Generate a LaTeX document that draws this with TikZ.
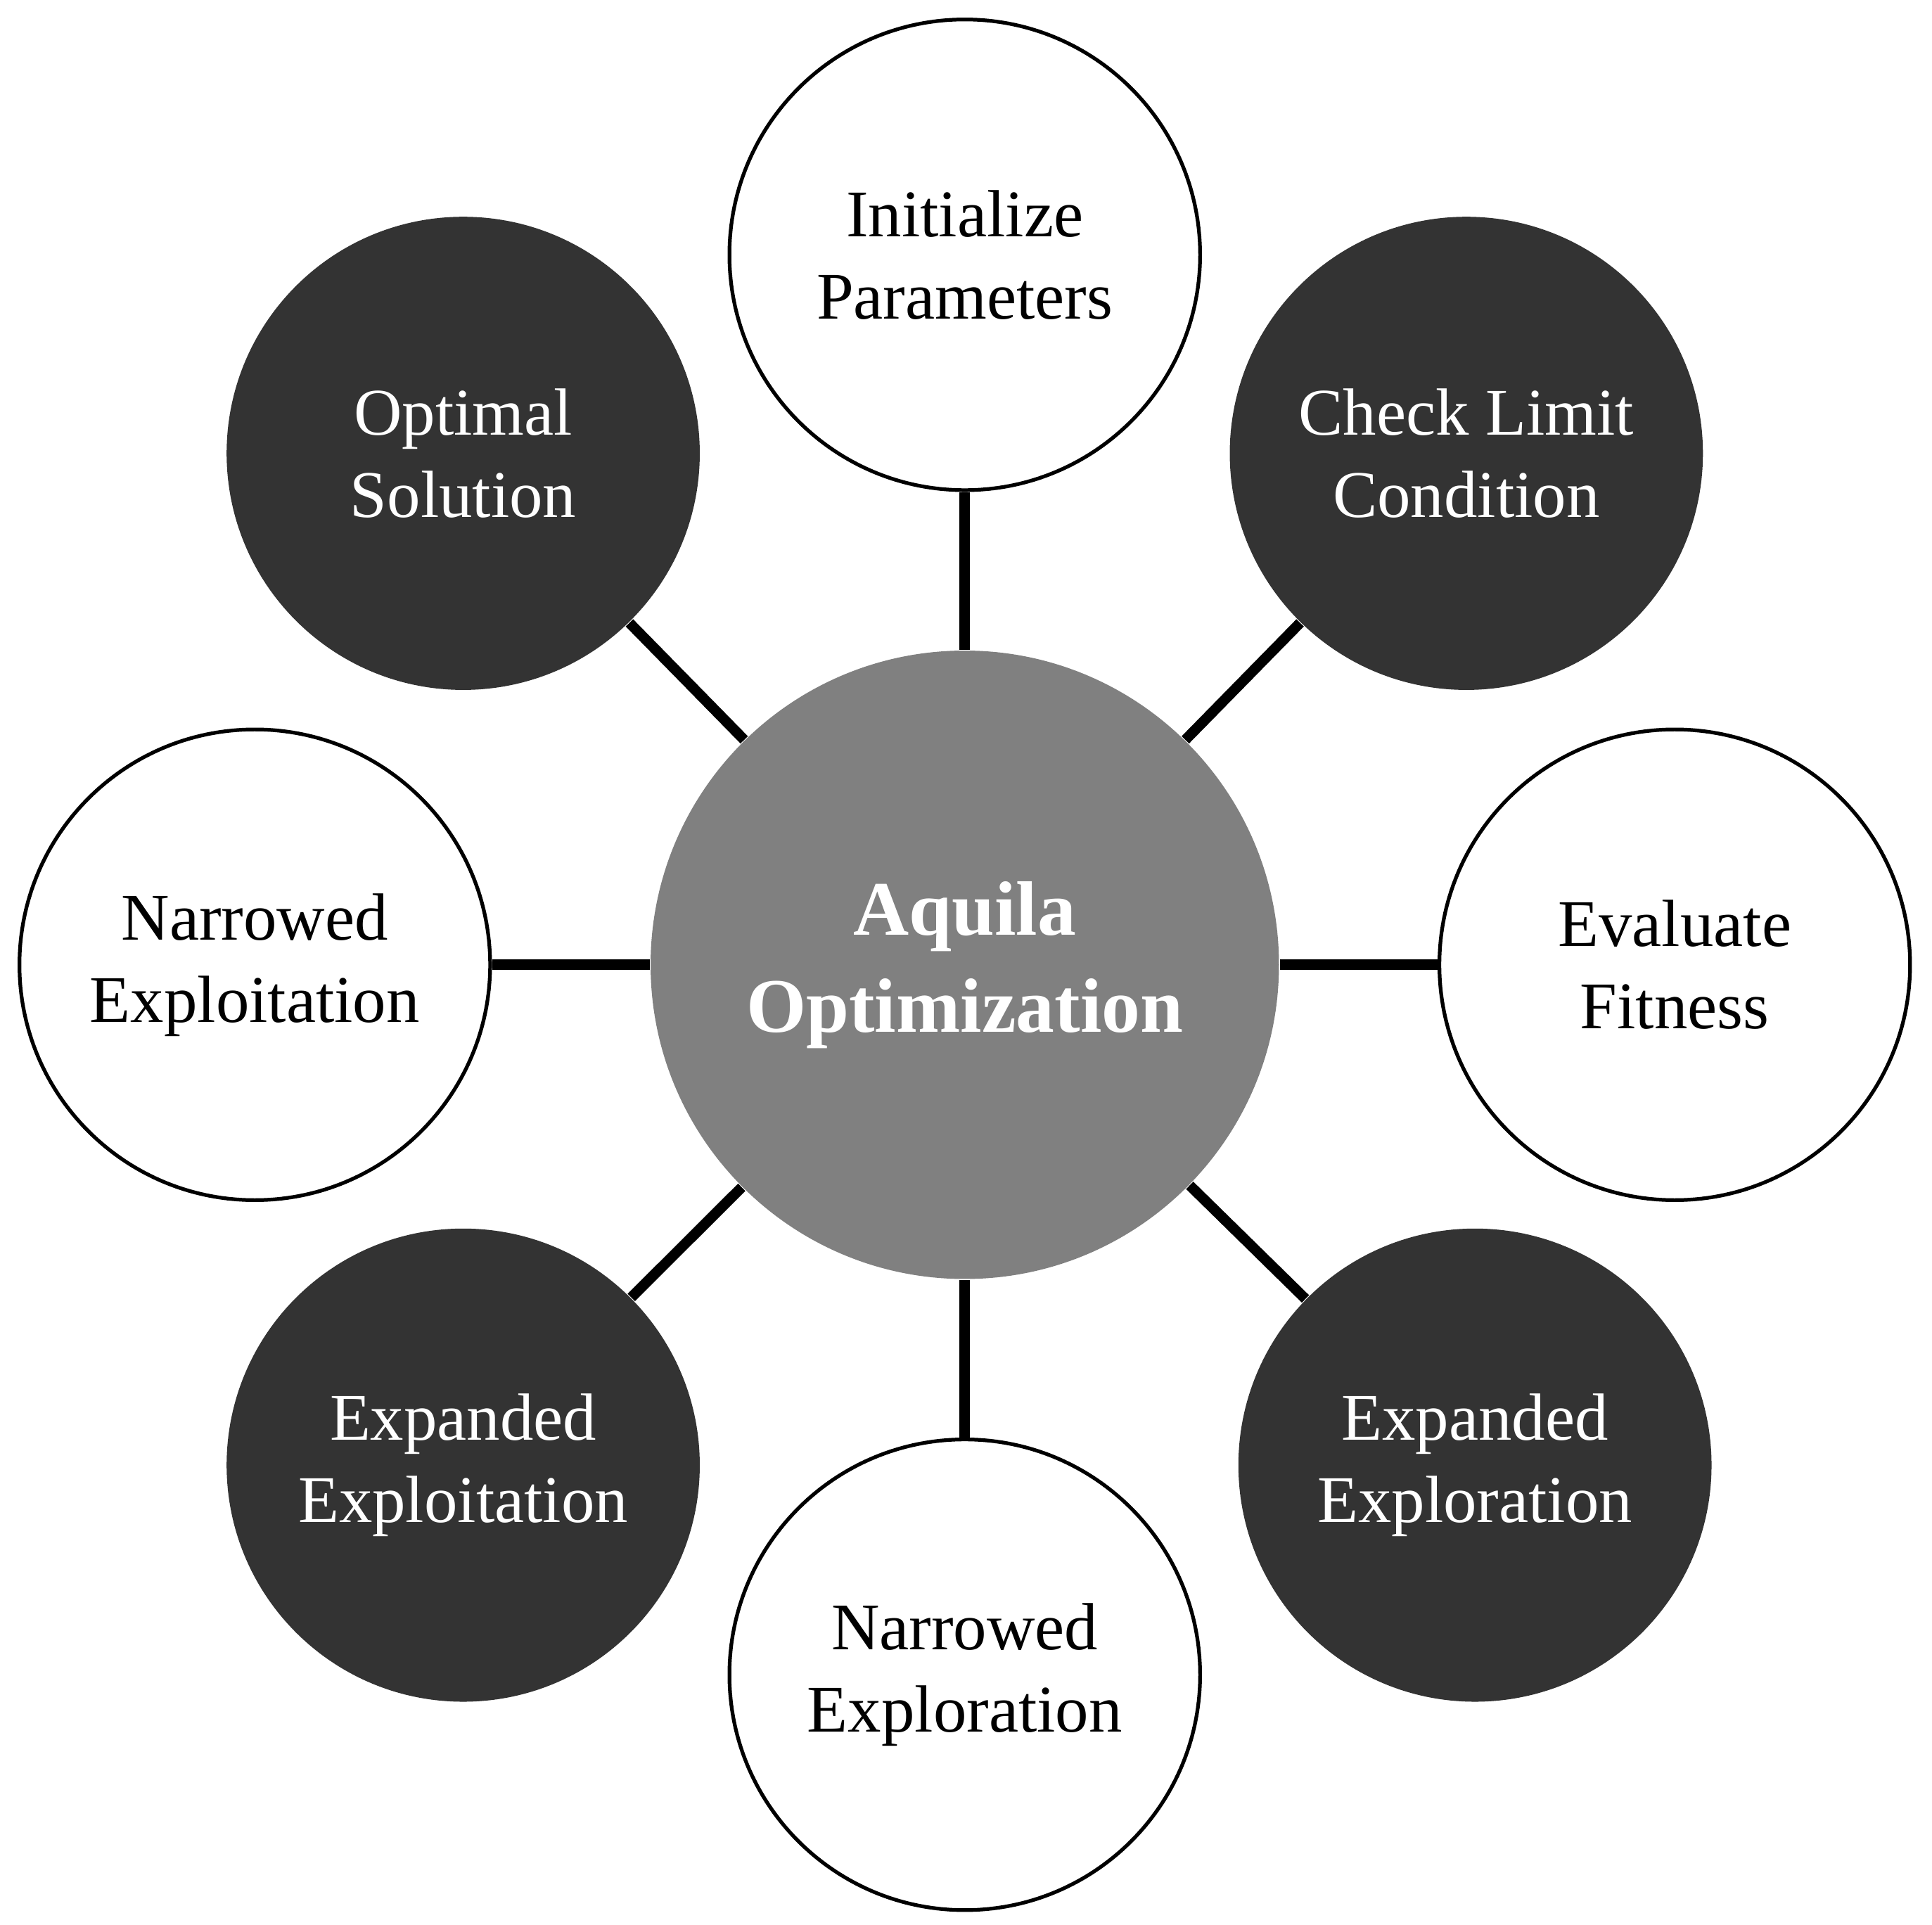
\documentclass[tikz,border=0pt]{standalone}
\usepackage{fontspec}
\setmainfont{Liberation Serif}
\usetikzlibrary{positioning}
\definecolor{hubgray}{RGB}{128,128,128}
\definecolor{charcoal}{RGB}{51,51,51}

\begin{document}
\begin{tikzpicture}[node distance=1.28cm]
  \tikzstyle{hub}=[circle, fill=hubgray, text=white, minimum size=5.1cm, align=center, font=\fontsize{17.8}{22.4}\selectfont\bfseries]
  \tikzstyle{lightnode}=[circle, draw=black, line width=0.85pt, fill=white, minimum size=3.82cm, align=center, font=\fontsize{15.4}{19}\selectfont]
  \tikzstyle{darknode}=[circle, fill=charcoal, text=white, minimum size=3.84cm, align=center, font=\fontsize{15.4}{19}\selectfont]
  \tikzstyle{spoke}=[draw=black, line width=2.4pt]
  \useasboundingbox (-7.83,-7.79) rectangle (7.85,7.83);
  \node[hub] (aquila) {Aquila\\ Optimization};
  \node[lightnode, above=of aquila] (init) {Initialize\\ Parameters};
  \node[darknode, above right=0.98cm and 0.90cm of aquila] (check) {Check Limit\\ Condition};
  \node[lightnode, right=of aquila] (fitness) {Evaluate\\ Fitness};
  \node[darknode, below right=0.89cm and 0.97cm of aquila] (expexplor) {Expanded\\ Exploration};
  \node[lightnode, below=of aquila] (narexplor) {Narrowed\\ Exploration};
  \node[darknode, below left=0.89cm and 0.90cm of aquila] (expexploit) {Expanded\\ Exploitation};
  \node[lightnode, left=of aquila] (narexploit) {Narrowed\\ Exploitation};
  \node[darknode, above left=0.98cm and 0.90cm of aquila] (optimal) {Optimal\\ Solution};
  \draw[spoke] (aquila) -- (init);
  \draw[spoke] (aquila) -- (check);
  \draw[spoke] (aquila) -- (fitness);
  \draw[spoke] (aquila) -- (expexplor);
  \draw[spoke] (aquila) -- (narexplor);
  \draw[spoke] (aquila) -- (expexploit);
  \draw[spoke] (aquila) -- (narexploit);
  \draw[spoke] (aquila) -- (optimal);
\end{tikzpicture}
\end{document}
